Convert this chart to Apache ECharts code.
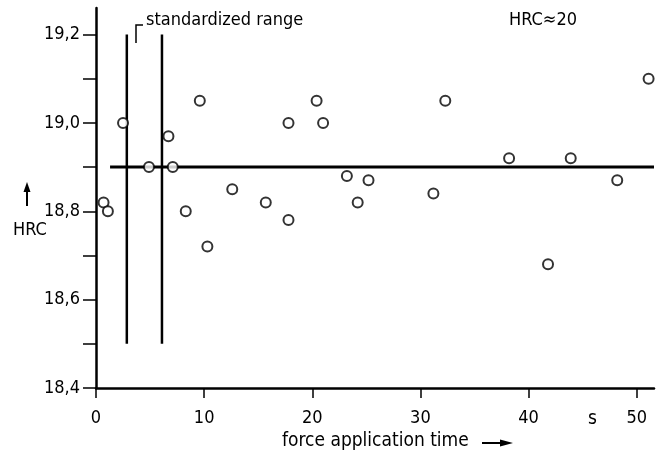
<!DOCTYPE html>
<html>
<head>
<meta charset="utf-8">
<script src="https://cdn.jsdelivr.net/npm/echarts@6/dist/echarts.min.js"></script>
<style>
  html, body { margin: 0; padding: 0; background: #fff; }
  #chart { width: 659px; height: 465px; }
</style>
</head>
<body>
<div id="chart"></div>
<script>
// measured points (force application time in s, hardness HRC)
const timeS = [0.7, 1.1, 2.5, 4.9, 6.7, 7.1, 8.3, 9.6, 10.3, 12.6, 15.7, 17.8, 17.8,
  20.4, 21.0, 23.2, 24.2, 25.2, 31.2, 32.3, 38.2, 41.8, 43.9, 48.2, 51.1];
const hrc = [18.82, 18.80, 19.00, 18.90, 18.97, 18.90, 18.80, 19.05, 18.72, 18.85, 18.82, 18.78, 19.00,
  19.05, 19.00, 18.88, 18.82, 18.87, 18.84, 19.05, 18.92, 18.68, 18.92, 18.87, 19.10];

// mean line and standardized range
const meanHRC = 18.9;
const meanSpan = [1.3, 51.6];
const rangeTimes = [2.85, 6.1];
const rangeHRC = [18.5, 19.2];

// axis ticks
const xTicks = [0, 10, 20, 30, 40, 50];
const yTicks = [18.4, 18.5, 18.6, 18.7, 18.8, 18.9, 19.0, 19.1, 19.2];
const yLabels = [18.4, 18.6, 18.8, 19.0, 19.2];

const font = "'DejaVu Sans Condensed', sans-serif";
const ink = '#000';

const chart = echarts.init(document.getElementById('chart'));

const points = timeS.map((t, i) => [t, hrc[i]]);
const rangeSeries = rangeTimes.map(t => ({
  type: 'line',
  data: [[t, rangeHRC[0]], [t, rangeHRC[1]]],
  symbol: 'none',
  lineStyle: { color: ink, width: 2.5 },
  z: 2
}));

chart.setOption({
  animation: false,
  backgroundColor: '#fff',
  grid: { left: 96, right: 5, top: 8, bottom: 77 },
  xAxis: {
    type: 'value',
    min: 0,
    max: 51.6,
    axisLine: { lineStyle: { color: ink, width: 2.5 } },
    axisTick: { customValues: xTicks, length: 10, lineStyle: { color: ink, width: 1.5 } },
    axisLabel: { customValues: xTicks, color: ink, fontFamily: font, fontSize: 18, margin: 21 },
    splitLine: { show: false }
  },
  yAxis: {
    type: 'value',
    min: 18.4,
    max: 19.26,
    axisLine: { show: true, lineStyle: { color: ink, width: 2.5 } },
    axisTick: { show: true, customValues: yTicks, length: 13, lineStyle: { color: ink, width: 1.5 } },
    axisLabel: {
      customValues: yLabels,
      color: ink, fontFamily: font, fontSize: 18, margin: 16,
      formatter: v => v.toFixed(1).replace('.', ',')
    },
    splitLine: { show: false }
  },
  series: [
    {
      type: 'line',
      data: [[meanSpan[0], meanHRC], [meanSpan[1], meanHRC]],
      symbol: 'none',
      lineStyle: { color: ink, width: 3 },
      z: 2
    },
    ...rangeSeries,
    {
      type: 'scatter',
      data: points,
      symbol: 'circle',
      symbolSize: 10,
      itemStyle: { color: '#fff', borderColor: ink, borderWidth: 2 },
      z: 3
    }
  ],
  graphic: [
    { type: 'polyline', shape: { points: [[136, 43], [136, 25], [143, 25]] }, style: { stroke: ink, lineWidth: 1.5, fill: null } },
    { type: 'text', left: 146, top: 11, style: { text: 'standardized range', font: '18px ' + font, fill: ink } },
    { type: 'text', left: 509, top: 11, style: { text: 'HRC≈20', font: '18px ' + font, fill: ink } },
    // y axis name with arrow
    { type: 'line', shape: { x1: 27, y1: 190, x2: 27, y2: 206 }, style: { stroke: ink, lineWidth: 2 } },
    { type: 'polygon', shape: { points: [[27, 182], [23.5, 192], [30.5, 192]] }, style: { fill: ink } },
    { type: 'text', left: 13, top: 221, style: { text: 'HRC', font: '18px ' + font, fill: ink } },
    // x axis name with arrow
    { type: 'text', left: 282, top: 432, style: { text: 'force application time', font: '19px ' + font, fill: ink } },
    { type: 'line', shape: { x1: 482, y1: 443, x2: 502, y2: 443 }, style: { stroke: ink, lineWidth: 2 } },
    { type: 'polygon', shape: { points: [[513, 443], [500, 439.5], [500, 446.5]] }, style: { fill: ink } },
    { type: 'text', left: 588, top: 410, style: { text: 's', font: '19px ' + font, fill: ink } }
  ]
});
</script>
</body>
</html>
